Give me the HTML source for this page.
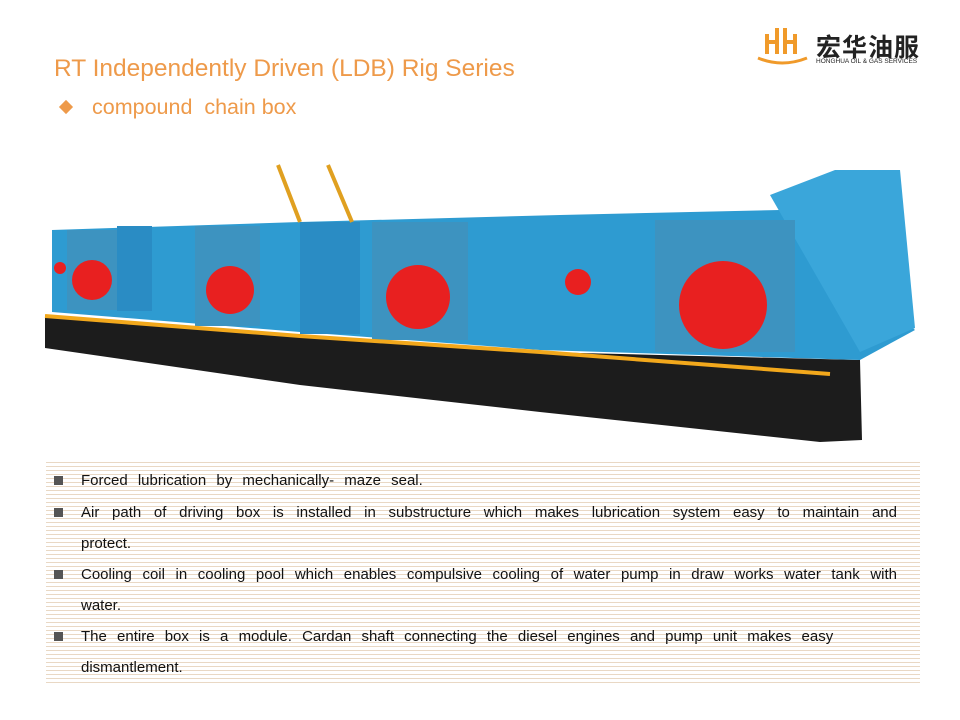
<!DOCTYPE html>
<html><head><meta charset="utf-8"><style>
body{margin:0;width:960px;height:720px;background:#fff;position:relative;overflow:hidden;font-family:"Liberation Sans",sans-serif}
.t1{position:absolute;left:54px;top:55px;font-size:24.5px;color:#EE9A4A}
.t2{position:absolute;left:92px;top:95px;font-size:21.5px;color:#EE9A4A}
.dia{position:absolute;left:61px;top:102px;width:10px;height:10px;background:#EE9A4A;transform:rotate(45deg)}
.box{position:absolute;left:46px;top:460px;width:874px;height:226px;background:repeating-linear-gradient(#fff 0 2px,#E9D8C4 2px 3px,#fff 3px 4px)}
.p{position:absolute;left:81px;font-size:15px;color:#111;word-spacing:6px;width:816px;text-align:justify;line-height:31px}
.sq{position:absolute;left:54px;width:9px;height:9px;background:#555}
.logo{position:absolute;left:816px;top:28px;font-family:"Noto Sans CJK SC",sans-serif;font-size:25px;font-weight:bold;color:#222;letter-spacing:1px}
.logo2{position:absolute;left:816px;top:58px;font-size:6.5px;color:#222}
</style></head><body>
<div class="t1">RT Independently Driven (LDB) Rig Series</div>
<div class="dia"></div><div class="t2">compound&nbsp; chain box</div>
<svg style="position:absolute;left:755px;top:24px" width="55" height="42"><path d="M3 34 Q27 44 52 34" stroke="#F09A2A" stroke-width="3" fill="none"/><path d="M12 30V10 M22 30V4 M12 18H22 M30 30V4 M40 30V10 M30 18H40" stroke="#F09A2A" stroke-width="4" fill="none"/></svg>
<div class="logo">宏华油服</div>
<div class="logo2">HONGHUA OIL &amp; GAS SERVICES</div>
<svg style="position:absolute;left:0;top:0" width="960" height="460">
<polygon points="45,315 300,335 540,352 860,360 862,440 820,442 540,412 300,385 45,348" fill="#1c1c1c"/>
<polygon points="52,230 300,222 560,215 780,210 915,330 860,360 540,350 300,332 52,312" fill="#2E9BD1"/>
<polygon points="770,195 835,170 900,170 915,328 860,352" fill="#3aa6da"/>
<rect x="67" y="230" width="55" height="80" fill="#3d93c0"/>
<rect x="195" y="226" width="65" height="100" fill="#3d93c0"/>
<rect x="372" y="222" width="96" height="118" fill="#3d93c0"/>
<rect x="655" y="220" width="140" height="132" fill="#3d93c0"/>
<rect x="117" y="226" width="35" height="85" fill="#2a8cc4"/>
<rect x="300" y="222" width="60" height="112" fill="#2a8cc4"/>
<circle cx="92" cy="280" r="20" fill="#E82020"/>
<circle cx="230" cy="290" r="24" fill="#E82020"/>
<circle cx="418" cy="297" r="32" fill="#E82020"/>
<circle cx="723" cy="305" r="44" fill="#E82020"/>
<circle cx="578" cy="282" r="13" fill="#E82020"/>
<circle cx="60" cy="268" r="6" fill="#E82020"/>
<path d="M45 316 L300 336 L540 352 L830 374" stroke="#F2A81C" stroke-width="4" fill="none"/>
<path d="M278 165 L300 222 M328 165 L352 222" stroke="#E0A020" stroke-width="4" fill="none"/>
</svg>
<div class="box"></div>
<div class="sq" style="top:476px"></div><div class="p" style="top:465px">Forced lubrication by mechanically- maze seal.</div>
<div class="sq" style="top:508px"></div><div class="p" style="top:497px">Air path of driving box is installed in substructure which makes lubrication system easy to maintain and protect.</div>
<div class="sq" style="top:570px"></div><div class="p" style="top:559px">Cooling coil in cooling pool which enables compulsive cooling of water pump in draw works water tank with water.</div>
<div class="sq" style="top:632px"></div><div class="p" style="top:621px;text-align:left;width:790px">The entire box is a module. Cardan shaft connecting the diesel engines and pump unit makes easy dismantlement.</div>
</body></html>
